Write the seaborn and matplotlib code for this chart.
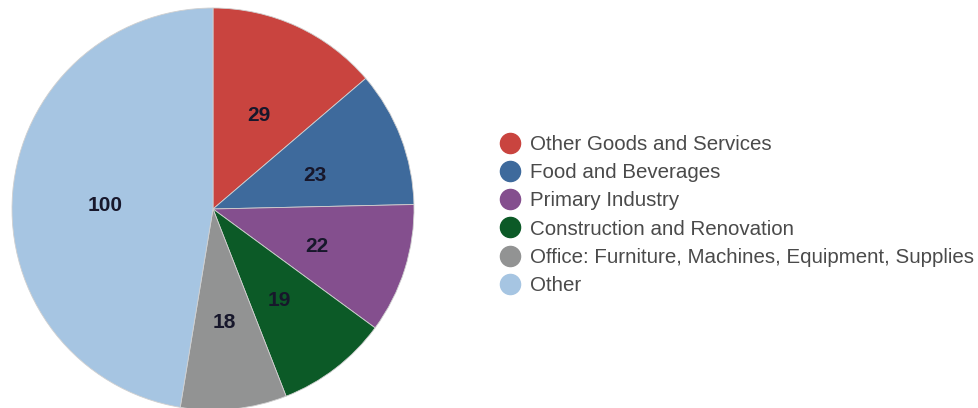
import matplotlib
matplotlib.use("Agg")
import matplotlib.pyplot as plt
import matplotlib.transforms as mtransforms
from matplotlib.lines import Line2D
import seaborn as sns

categories = ["Other Goods and Services", "Food and Beverages", "Primary Industry",
              "Construction and Renovation",
              "Office: Furniture, Machines, Equipment, Supplies", "Other"]
values = [29, 23, 22, 19, 18, 100]
colors = ["#c9443f", "#3e6a9c", "#844f8e", "#0c5a27", "#929393", "#a6c5e2"]

sns.set_theme(style="white")
plt.rcParams["font.family"] = ["Liberation Sans", "DejaVu Sans"]

fig = plt.figure(figsize=(9.79, 4.08), dpi=100)
R = 201
cx, cy = 213, 408 - 209
ax = fig.add_axes([(cx - R) / 979, (cy - R) / 408, 2 * R / 979, 2 * R / 408])

wedges, texts = ax.pie(values, colors=colors, startangle=90, counterclock=False,
                       labels=[str(v) for v in values], labeldistance=0.54,
                       wedgeprops=dict(linewidth=0.6, edgecolor="#d0d0d0"),
                       textprops=dict(fontsize=15, fontweight="bold", color="#17172b",
                                      ha="center", va="center_baseline"))
for t in texts:
    t.set_transform(mtransforms.offset_copy(t.get_transform(), fig=fig, x=0, y=-2.2, units="points"))
ax.set_xlim(-1, 1)
ax.set_ylim(-1, 1)
ax.set_aspect("equal")

handles = [Line2D([0], [0], marker="o", linestyle="none", markersize=14.5,
                  markerfacecolor=c, markeredgecolor=c) for c in colors]
fig.legend(handles, categories, loc="center left", bbox_to_anchor=(499.5 / 979, 1 - 215 / 408),
           frameon=False, fontsize=14.8, labelcolor="#4a4a4a", handlelength=1.0,
           handletextpad=0.47, labelspacing=0.45, borderpad=0, borderaxespad=0)

fig.savefig("out.png", dpi=100)
